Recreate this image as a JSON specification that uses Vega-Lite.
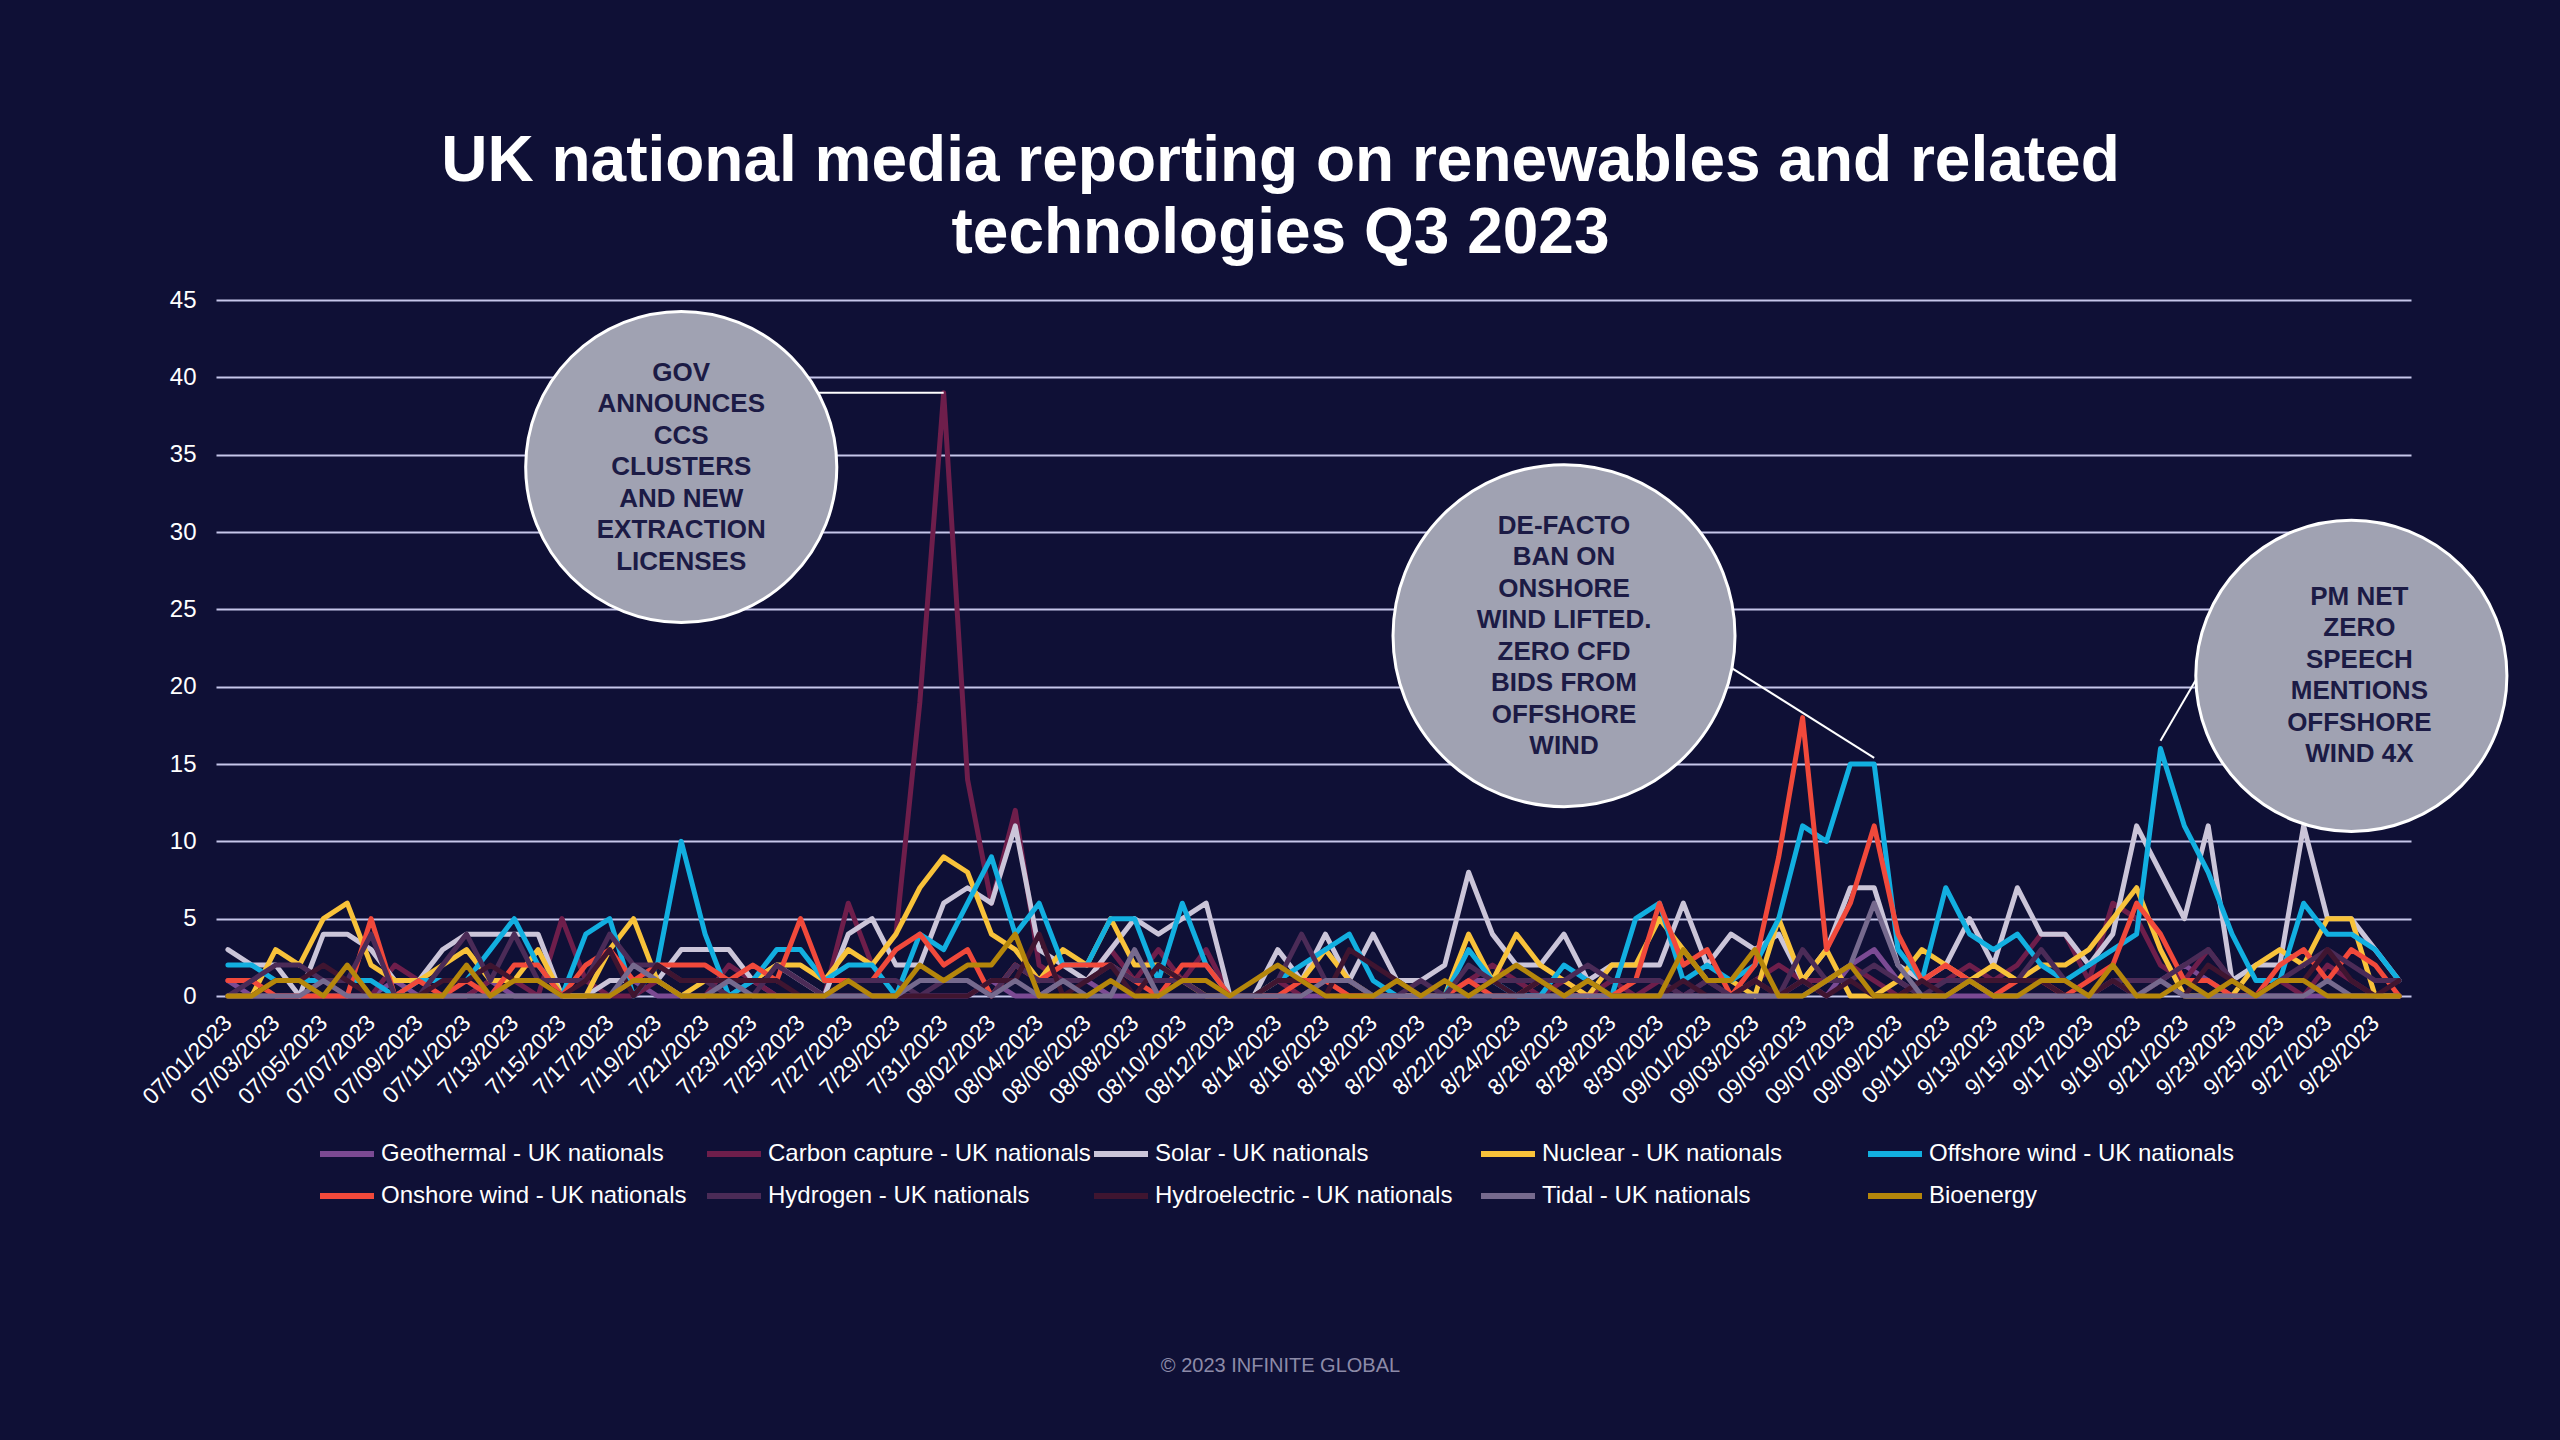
{
  "$schema": "https://vega.github.io/schema/vega-lite/v6.json",
  "width": 2195,
  "height": 696,
  "autosize": {"type": "none"},
  "padding": {"left": 216, "top": 300, "right": 149, "bottom": 444},
  "background": "#0f1036",
  "title": {
    "text": ["UK national media reporting on renewables and related", "technologies Q3 2023"],
    "color": "#ffffff",
    "font": "Liberation Sans",
    "fontSize": 64,
    "fontWeight": "bold",
    "lineHeight": 72,
    "anchor": "middle",
    "frame": "group",
    "dx": -33,
    "offset": 22
  },
  "datasets": {
    "series": [
      {"key": "geo", "name": "Geothermal - UK nationals"},
      {"key": "ccs", "name": "Carbon capture - UK nationals"},
      {"key": "solar", "name": "Solar - UK nationals"},
      {"key": "nuc", "name": "Nuclear - UK nationals"},
      {"key": "off", "name": "Offshore wind - UK nationals"},
      {"key": "on", "name": "Onshore wind - UK nationals"},
      {"key": "h2", "name": "Hydrogen - UK nationals"},
      {"key": "hydro", "name": "Hydroelectric - UK nationals"},
      {"key": "tidal", "name": "Tidal - UK nationals"},
      {"key": "bio", "name": "Bioenergy"}
    ],
    "media": [
      {"d": "07/01/2023", "geo": 1, "ccs": 1, "solar": 3, "nuc": 0, "off": 2, "on": 1, "h2": 0, "hydro": 0, "tidal": 0, "bio": 0},
      {"d": "07/02/2023", "geo": 0, "ccs": 1, "solar": 2, "nuc": 0, "off": 2, "on": 1, "h2": 1, "hydro": 0, "tidal": 0, "bio": 0},
      {"d": "07/03/2023", "geo": 0, "ccs": 0, "solar": 2, "nuc": 3, "off": 1, "on": 0, "h2": 2, "hydro": 1, "tidal": 0, "bio": 1},
      {"d": "07/04/2023", "geo": 0, "ccs": 0, "solar": 0, "nuc": 2, "off": 1, "on": 0, "h2": 2, "hydro": 1, "tidal": 0, "bio": 1},
      {"d": "07/05/2023", "geo": 0, "ccs": 1, "solar": 4, "nuc": 5, "off": 1, "on": 0, "h2": 1, "hydro": 2, "tidal": 1, "bio": 0},
      {"d": "07/06/2023", "geo": 0, "ccs": 0, "solar": 4, "nuc": 6, "off": 1, "on": 0, "h2": 1, "hydro": 1, "tidal": 0, "bio": 2},
      {"d": "07/07/2023", "geo": 0, "ccs": 0, "solar": 3, "nuc": 2, "off": 1, "on": 5, "h2": 4, "hydro": 0, "tidal": 0, "bio": 0},
      {"d": "07/08/2023", "geo": 1, "ccs": 2, "solar": 1, "nuc": 1, "off": 0, "on": 0, "h2": 0, "hydro": 0, "tidal": 0, "bio": 0},
      {"d": "07/09/2023", "geo": 0, "ccs": 1, "solar": 1, "nuc": 1, "off": 1, "on": 1, "h2": 0, "hydro": 0, "tidal": 0, "bio": 0},
      {"d": "07/10/2023", "geo": 0, "ccs": 0, "solar": 3, "nuc": 2, "off": 1, "on": 0, "h2": 2, "hydro": 1, "tidal": 0, "bio": 0},
      {"d": "07/11/2023", "geo": 0, "ccs": 0, "solar": 4, "nuc": 3, "off": 1, "on": 1, "h2": 4, "hydro": 1, "tidal": 0, "bio": 2},
      {"d": "07/12/2023", "geo": 1, "ccs": 1, "solar": 4, "nuc": 1, "off": 3, "on": 0, "h2": 1, "hydro": 2, "tidal": 0, "bio": 0},
      {"d": "7/13/2023", "geo": 0, "ccs": 1, "solar": 4, "nuc": 1, "off": 5, "on": 2, "h2": 4, "hydro": 1, "tidal": 0, "bio": 1},
      {"d": "7/14/2023", "geo": 0, "ccs": 0, "solar": 4, "nuc": 3, "off": 2, "on": 2, "h2": 1, "hydro": 1, "tidal": 0, "bio": 1},
      {"d": "7/15/2023", "geo": 0, "ccs": 5, "solar": 0, "nuc": 0, "off": 0, "on": 0, "h2": 1, "hydro": 0, "tidal": 0, "bio": 0},
      {"d": "7/16/2023", "geo": 0, "ccs": 1, "solar": 0, "nuc": 0, "off": 4, "on": 2, "h2": 1, "hydro": 1, "tidal": 0, "bio": 0},
      {"d": "7/17/2023", "geo": 0, "ccs": 0, "solar": 1, "nuc": 3, "off": 5, "on": 3, "h2": 4, "hydro": 3, "tidal": 0, "bio": 0},
      {"d": "7/18/2023", "geo": 1, "ccs": 0, "solar": 1, "nuc": 5, "off": 0, "on": 1, "h2": 2, "hydro": 0, "tidal": 2, "bio": 1},
      {"d": "7/19/2023", "geo": 0, "ccs": 1, "solar": 1, "nuc": 1, "off": 2, "on": 2, "h2": 2, "hydro": 2, "tidal": 1, "bio": 1},
      {"d": "7/20/2023", "geo": 0, "ccs": 0, "solar": 3, "nuc": 0, "off": 10, "on": 2, "h2": 1, "hydro": 1, "tidal": 0, "bio": 0},
      {"d": "7/21/2023", "geo": 0, "ccs": 0, "solar": 3, "nuc": 1, "off": 4, "on": 2, "h2": 1, "hydro": 1, "tidal": 0, "bio": 0},
      {"d": "7/22/2023", "geo": 0, "ccs": 2, "solar": 3, "nuc": 1, "off": 0, "on": 1, "h2": 0, "hydro": 1, "tidal": 1, "bio": 0},
      {"d": "7/23/2023", "geo": 1, "ccs": 1, "solar": 1, "nuc": 1, "off": 1, "on": 2, "h2": 0, "hydro": 1, "tidal": 0, "bio": 0},
      {"d": "7/24/2023", "geo": 0, "ccs": 0, "solar": 2, "nuc": 2, "off": 3, "on": 1, "h2": 2, "hydro": 1, "tidal": 0, "bio": 0},
      {"d": "7/25/2023", "geo": 0, "ccs": 0, "solar": 1, "nuc": 2, "off": 3, "on": 5, "h2": 1, "hydro": 0, "tidal": 0, "bio": 0},
      {"d": "7/26/2023", "geo": 0, "ccs": 0, "solar": 0, "nuc": 1, "off": 1, "on": 1, "h2": 0, "hydro": 0, "tidal": 0, "bio": 0},
      {"d": "7/27/2023", "geo": 0, "ccs": 6, "solar": 4, "nuc": 3, "off": 2, "on": 1, "h2": 1, "hydro": 0, "tidal": 0, "bio": 1},
      {"d": "7/28/2023", "geo": 0, "ccs": 2, "solar": 5, "nuc": 2, "off": 2, "on": 1, "h2": 1, "hydro": 0, "tidal": 0, "bio": 0},
      {"d": "7/29/2023", "geo": 0, "ccs": 4, "solar": 2, "nuc": 4, "off": 0, "on": 3, "h2": 1, "hydro": 0, "tidal": 0, "bio": 0},
      {"d": "7/30/2023", "geo": 0, "ccs": 19, "solar": 2, "nuc": 7, "off": 4, "on": 4, "h2": 0, "hydro": 0, "tidal": 1, "bio": 2},
      {"d": "7/31/2023", "geo": 0, "ccs": 39, "solar": 6, "nuc": 9, "off": 3, "on": 2, "h2": 1, "hydro": 0, "tidal": 1, "bio": 1},
      {"d": "08/01/2023", "geo": 0, "ccs": 14, "solar": 7, "nuc": 8, "off": 6, "on": 3, "h2": 1, "hydro": 0, "tidal": 1, "bio": 2},
      {"d": "08/02/2023", "geo": 1, "ccs": 6, "solar": 6, "nuc": 4, "off": 9, "on": 0, "h2": 0, "hydro": 1, "tidal": 0, "bio": 2},
      {"d": "08/03/2023", "geo": 0, "ccs": 12, "solar": 11, "nuc": 3, "off": 4, "on": 2, "h2": 2, "hydro": 1, "tidal": 1, "bio": 4},
      {"d": "08/04/2023", "geo": 0, "ccs": 2, "solar": 3, "nuc": 1, "off": 6, "on": 1, "h2": 1, "hydro": 4, "tidal": 0, "bio": 0},
      {"d": "08/05/2023", "geo": 1, "ccs": 1, "solar": 2, "nuc": 3, "off": 2, "on": 2, "h2": 1, "hydro": 0, "tidal": 1, "bio": 0},
      {"d": "08/06/2023", "geo": 1, "ccs": 1, "solar": 1, "nuc": 2, "off": 2, "on": 2, "h2": 1, "hydro": 1, "tidal": 0, "bio": 0},
      {"d": "08/07/2023", "geo": 0, "ccs": 3, "solar": 3, "nuc": 5, "off": 5, "on": 2, "h2": 2, "hydro": 2, "tidal": 0, "bio": 1},
      {"d": "08/08/2023", "geo": 0, "ccs": 1, "solar": 5, "nuc": 2, "off": 5, "on": 1, "h2": 1, "hydro": 0, "tidal": 3, "bio": 0},
      {"d": "08/09/2023", "geo": 0, "ccs": 3, "solar": 4, "nuc": 2, "off": 1, "on": 0, "h2": 1, "hydro": 2, "tidal": 0, "bio": 0},
      {"d": "08/10/2023", "geo": 0, "ccs": 1, "solar": 5, "nuc": 1, "off": 6, "on": 2, "h2": 1, "hydro": 1, "tidal": 0, "bio": 1},
      {"d": "08/11/2023", "geo": 0, "ccs": 3, "solar": 6, "nuc": 0, "off": 2, "on": 2, "h2": 0, "hydro": 1, "tidal": 0, "bio": 1},
      {"d": "08/12/2023", "geo": 0, "ccs": 0, "solar": 0, "nuc": 0, "off": 0, "on": 0, "h2": 0, "hydro": 0, "tidal": 0, "bio": 0},
      {"d": "8/13/2023", "geo": 0, "ccs": 0, "solar": 0, "nuc": 0, "off": 0, "on": 0, "h2": 0, "hydro": 0, "tidal": 0, "bio": 1},
      {"d": "8/14/2023", "geo": 0, "ccs": 1, "solar": 3, "nuc": 1, "off": 1, "on": 0, "h2": 1, "hydro": 1, "tidal": 0, "bio": 2},
      {"d": "8/15/2023", "geo": 0, "ccs": 0, "solar": 1, "nuc": 1, "off": 2, "on": 1, "h2": 4, "hydro": 1, "tidal": 0, "bio": 1},
      {"d": "8/16/2023", "geo": 0, "ccs": 1, "solar": 4, "nuc": 3, "off": 3, "on": 1, "h2": 1, "hydro": 0, "tidal": 1, "bio": 0},
      {"d": "8/17/2023", "geo": 0, "ccs": 0, "solar": 1, "nuc": 1, "off": 4, "on": 0, "h2": 1, "hydro": 3, "tidal": 1, "bio": 0},
      {"d": "8/18/2023", "geo": 0, "ccs": 0, "solar": 4, "nuc": 0, "off": 1, "on": 0, "h2": 0, "hydro": 2, "tidal": 0, "bio": 0},
      {"d": "8/19/2023", "geo": 0, "ccs": 1, "solar": 1, "nuc": 0, "off": 0, "on": 0, "h2": 0, "hydro": 1, "tidal": 0, "bio": 1},
      {"d": "8/20/2023", "geo": 0, "ccs": 0, "solar": 1, "nuc": 0, "off": 0, "on": 0, "h2": 1, "hydro": 0, "tidal": 0, "bio": 0},
      {"d": "8/21/2023", "geo": 0, "ccs": 0, "solar": 2, "nuc": 0, "off": 0, "on": 0, "h2": 0, "hydro": 0, "tidal": 0, "bio": 1},
      {"d": "8/22/2023", "geo": 1, "ccs": 1, "solar": 8, "nuc": 4, "off": 3, "on": 1, "h2": 2, "hydro": 0, "tidal": 0, "bio": 0},
      {"d": "8/23/2023", "geo": 1, "ccs": 2, "solar": 4, "nuc": 1, "off": 1, "on": 0, "h2": 1, "hydro": 1, "tidal": 0, "bio": 1},
      {"d": "8/24/2023", "geo": 0, "ccs": 1, "solar": 2, "nuc": 4, "off": 0, "on": 0, "h2": 1, "hydro": 0, "tidal": 0, "bio": 2},
      {"d": "8/25/2023", "geo": 0, "ccs": 0, "solar": 2, "nuc": 2, "off": 0, "on": 1, "h2": 1, "hydro": 1, "tidal": 0, "bio": 1},
      {"d": "8/26/2023", "geo": 0, "ccs": 1, "solar": 4, "nuc": 1, "off": 2, "on": 0, "h2": 1, "hydro": 0, "tidal": 0, "bio": 0},
      {"d": "8/27/2023", "geo": 0, "ccs": 0, "solar": 1, "nuc": 0, "off": 1, "on": 0, "h2": 2, "hydro": 1, "tidal": 0, "bio": 1},
      {"d": "8/28/2023", "geo": 0, "ccs": 1, "solar": 2, "nuc": 2, "off": 0, "on": 0, "h2": 1, "hydro": 0, "tidal": 0, "bio": 0},
      {"d": "8/29/2023", "geo": 0, "ccs": 0, "solar": 2, "nuc": 2, "off": 5, "on": 1, "h2": 1, "hydro": 0, "tidal": 0, "bio": 0},
      {"d": "8/30/2023", "geo": 0, "ccs": 1, "solar": 2, "nuc": 5, "off": 6, "on": 6, "h2": 1, "hydro": 0, "tidal": 0, "bio": 0},
      {"d": "8/31/2023", "geo": 0, "ccs": 0, "solar": 6, "nuc": 3, "off": 1, "on": 2, "h2": 0, "hydro": 1, "tidal": 0, "bio": 3},
      {"d": "09/01/2023", "geo": 0, "ccs": 1, "solar": 2, "nuc": 1, "off": 2, "on": 3, "h2": 1, "hydro": 0, "tidal": 0, "bio": 1},
      {"d": "09/02/2023", "geo": 0, "ccs": 0, "solar": 4, "nuc": 1, "off": 1, "on": 0, "h2": 0, "hydro": 0, "tidal": 0, "bio": 1},
      {"d": "09/03/2023", "geo": 0, "ccs": 1, "solar": 3, "nuc": 0, "off": 2, "on": 2, "h2": 1, "hydro": 1, "tidal": 0, "bio": 3},
      {"d": "09/04/2023", "geo": 0, "ccs": 2, "solar": 4, "nuc": 5, "off": 5, "on": 9, "h2": 0, "hydro": 0, "tidal": 0, "bio": 0},
      {"d": "09/05/2023", "geo": 1, "ccs": 1, "solar": 1, "nuc": 1, "off": 11, "on": 18, "h2": 3, "hydro": 1, "tidal": 0, "bio": 0},
      {"d": "09/06/2023", "geo": 0, "ccs": 1, "solar": 3, "nuc": 3, "off": 10, "on": 3, "h2": 1, "hydro": 0, "tidal": 1, "bio": 1},
      {"d": "09/07/2023", "geo": 2, "ccs": 2, "solar": 7, "nuc": 0, "off": 15, "on": 6, "h2": 1, "hydro": 1, "tidal": 2, "bio": 2},
      {"d": "09/08/2023", "geo": 3, "ccs": 1, "solar": 7, "nuc": 0, "off": 15, "on": 11, "h2": 2, "hydro": 0, "tidal": 6, "bio": 0},
      {"d": "09/09/2023", "geo": 1, "ccs": 0, "solar": 2, "nuc": 1, "off": 3, "on": 4, "h2": 1, "hydro": 0, "tidal": 2, "bio": 0},
      {"d": "09/10/2023", "geo": 0, "ccs": 1, "solar": 1, "nuc": 3, "off": 1, "on": 1, "h2": 0, "hydro": 1, "tidal": 0, "bio": 0},
      {"d": "09/11/2023", "geo": 0, "ccs": 1, "solar": 2, "nuc": 2, "off": 7, "on": 2, "h2": 1, "hydro": 0, "tidal": 0, "bio": 0},
      {"d": "09/12/2023", "geo": 0, "ccs": 2, "solar": 5, "nuc": 1, "off": 4, "on": 1, "h2": 1, "hydro": 1, "tidal": 1, "bio": 1},
      {"d": "9/13/2023", "geo": 0, "ccs": 1, "solar": 2, "nuc": 2, "off": 3, "on": 0, "h2": 1, "hydro": 1, "tidal": 0, "bio": 0},
      {"d": "9/14/2023", "geo": 0, "ccs": 2, "solar": 7, "nuc": 1, "off": 4, "on": 1, "h2": 1, "hydro": 1, "tidal": 0, "bio": 0},
      {"d": "9/15/2023", "geo": 0, "ccs": 4, "solar": 4, "nuc": 2, "off": 2, "on": 1, "h2": 3, "hydro": 1, "tidal": 0, "bio": 1},
      {"d": "9/16/2023", "geo": 0, "ccs": 4, "solar": 4, "nuc": 2, "off": 1, "on": 0, "h2": 1, "hydro": 0, "tidal": 0, "bio": 1},
      {"d": "9/17/2023", "geo": 0, "ccs": 1, "solar": 2, "nuc": 3, "off": 2, "on": 1, "h2": 0, "hydro": 0, "tidal": 0, "bio": 0},
      {"d": "9/18/2023", "geo": 1, "ccs": 6, "solar": 4, "nuc": 5, "off": 3, "on": 2, "h2": 1, "hydro": 1, "tidal": 0, "bio": 2},
      {"d": "9/19/2023", "geo": 0, "ccs": 5, "solar": 11, "nuc": 7, "off": 4, "on": 6, "h2": 1, "hydro": 0, "tidal": 0, "bio": 0},
      {"d": "9/20/2023", "geo": 1, "ccs": 2, "solar": 8, "nuc": 3, "off": 16, "on": 4, "h2": 1, "hydro": 1, "tidal": 1, "bio": 0},
      {"d": "9/21/2023", "geo": 2, "ccs": 1, "solar": 5, "nuc": 0, "off": 11, "on": 1, "h2": 2, "hydro": 0, "tidal": 0, "bio": 1},
      {"d": "9/22/2023", "geo": 1, "ccs": 3, "solar": 11, "nuc": 0, "off": 8, "on": 1, "h2": 3, "hydro": 2, "tidal": 0, "bio": 0},
      {"d": "9/23/2023", "geo": 0, "ccs": 1, "solar": 1, "nuc": 0, "off": 4, "on": 0, "h2": 1, "hydro": 1, "tidal": 0, "bio": 1},
      {"d": "9/24/2023", "geo": 0, "ccs": 0, "solar": 2, "nuc": 2, "off": 1, "on": 0, "h2": 0, "hydro": 0, "tidal": 0, "bio": 0},
      {"d": "9/25/2023", "geo": 0, "ccs": 1, "solar": 2, "nuc": 3, "off": 1, "on": 2, "h2": 1, "hydro": 1, "tidal": 0, "bio": 1},
      {"d": "9/26/2023", "geo": 0, "ccs": 0, "solar": 11, "nuc": 2, "off": 6, "on": 3, "h2": 2, "hydro": 1, "tidal": 0, "bio": 1},
      {"d": "9/27/2023", "geo": 0, "ccs": 2, "solar": 5, "nuc": 5, "off": 4, "on": 1, "h2": 3, "hydro": 3, "tidal": 1, "bio": 0},
      {"d": "9/28/2023", "geo": 0, "ccs": 1, "solar": 5, "nuc": 5, "off": 4, "on": 3, "h2": 2, "hydro": 1, "tidal": 0, "bio": 0},
      {"d": "9/29/2023", "geo": 0, "ccs": 0, "solar": 3, "nuc": 0, "off": 3, "on": 2, "h2": 1, "hydro": 0, "tidal": 0, "bio": 0},
      {"d": "9/30/2023", "geo": 0, "ccs": 0, "solar": 1, "nuc": 0, "off": 1, "on": 0, "h2": 1, "hydro": 1, "tidal": 0, "bio": 0}
    ],
    "links": [
      {"d": "7/25/2023", "d2": "7/31/2023", "v": 39, "v2": 39},
      {"d": "09/01/2023", "d2": "09/08/2023", "v": 22.2, "v2": 15.4},
      {"d": "9/20/2023", "d2": "9/22/2023", "v": 16.5, "v2": 21.8}
    ],
    "notes": [
      {"id": 1, "d": "7/20/2023", "v": 34.2, "note": ["GOV", "ANNOUNCES", "CCS", "CLUSTERS", "AND NEW", "EXTRACTION", "LICENSES"]},
      {"id": 2, "d": "8/26/2023", "v": 23.3, "note": ["DE-FACTO", "BAN ON", "ONSHORE", "WIND LIFTED.", "ZERO CFD", "BIDS FROM", "OFFSHORE", "WIND"]},
      {"id": 3, "d": "9/28/2023", "v": 20.7, "note": ["PM NET", "ZERO", "SPEECH", "MENTIONS", "OFFSHORE", "WIND 4X"]}
    ]
  },
  "encoding": {
    "x": {
      "field": "d",
      "type": "ordinal",
      "sort": null,
      "scale": {
        "type": "point",
        "padding": 0.5,
        "domain": ["07/01/2023", "07/02/2023", "07/03/2023", "07/04/2023", "07/05/2023", "07/06/2023", "07/07/2023", "07/08/2023", "07/09/2023", "07/10/2023", "07/11/2023", "07/12/2023", "7/13/2023", "7/14/2023", "7/15/2023", "7/16/2023", "7/17/2023", "7/18/2023", "7/19/2023", "7/20/2023", "7/21/2023", "7/22/2023", "7/23/2023", "7/24/2023", "7/25/2023", "7/26/2023", "7/27/2023", "7/28/2023", "7/29/2023", "7/30/2023", "7/31/2023", "08/01/2023", "08/02/2023", "08/03/2023", "08/04/2023", "08/05/2023", "08/06/2023", "08/07/2023", "08/08/2023", "08/09/2023", "08/10/2023", "08/11/2023", "08/12/2023", "8/13/2023", "8/14/2023", "8/15/2023", "8/16/2023", "8/17/2023", "8/18/2023", "8/19/2023", "8/20/2023", "8/21/2023", "8/22/2023", "8/23/2023", "8/24/2023", "8/25/2023", "8/26/2023", "8/27/2023", "8/28/2023", "8/29/2023", "8/30/2023", "8/31/2023", "09/01/2023", "09/02/2023", "09/03/2023", "09/04/2023", "09/05/2023", "09/06/2023", "09/07/2023", "09/08/2023", "09/09/2023", "09/10/2023", "09/11/2023", "09/12/2023", "9/13/2023", "9/14/2023", "9/15/2023", "9/16/2023", "9/17/2023", "9/18/2023", "9/19/2023", "9/20/2023", "9/21/2023", "9/22/2023", "9/23/2023", "9/24/2023", "9/25/2023", "9/26/2023", "9/27/2023", "9/28/2023", "9/29/2023", "9/30/2023"]
      },
      "axis": {
        "values": ["07/01/2023", "07/03/2023", "07/05/2023", "07/07/2023", "07/09/2023", "07/11/2023", "7/13/2023", "7/15/2023", "7/17/2023", "7/19/2023", "7/21/2023", "7/23/2023", "7/25/2023", "7/27/2023", "7/29/2023", "7/31/2023", "08/02/2023", "08/04/2023", "08/06/2023", "08/08/2023", "08/10/2023", "08/12/2023", "8/14/2023", "8/16/2023", "8/18/2023", "8/20/2023", "8/22/2023", "8/24/2023", "8/26/2023", "8/28/2023", "8/30/2023", "09/01/2023", "09/03/2023", "09/05/2023", "09/07/2023", "09/09/2023", "09/11/2023", "9/13/2023", "9/15/2023", "9/17/2023", "9/19/2023", "9/21/2023", "9/23/2023", "9/25/2023", "9/27/2023", "9/29/2023"],
        "labelAngle": -45,
        "labelAlign": "right",
        "labelBaseline": "middle",
        "labelFontSize": 23,
        "labelColor": "#ffffff",
        "labelPadding": 23,
        "labelOverlap": false,
        "labelBound": false,
        "labelFlush": false,
        "domain": false,
        "ticks": false,
        "tickSize": 0,
        "grid": false,
        "title": "© 2023 INFINITE GLOBAL",
        "titleColor": "#8d8ba8",
        "titleFontSize": 20,
        "titleFontWeight": "normal",
        "titleAlign": "center",
        "titleBaseline": "alphabetic",
        "titleX": 1064,
        "titleY": 375
      }
    },
    "y": {
      "field": "v",
      "type": "quantitative",
      "scale": {"domain": [0, 45], "nice": false},
      "axis": {
        "values": [0, 5, 10, 15, 20, 25, 30, 35, 40, 45],
        "title": null,
        "domain": false,
        "ticks": false,
        "tickSize": 0,
        "grid": true,
        "gridColor": "#c6c6ea",
        "gridWidth": 2,
        "labelFontSize": 24,
        "labelColor": "#ffffff",
        "labelPadding": 20
      }
    }
  },
  "layer": [
    {
      "data": {"name": "media"},
      "transform": [
        {"fold": ["geo", "ccs", "solar", "nuc", "off", "on", "h2", "hydro", "tidal", "bio"], "as": ["key", "v"]},
        {"lookup": "key", "from": {"data": {"name": "series"}, "key": "key", "fields": ["name"]}}
      ],
      "mark": {"type": "line", "strokeWidth": 5, "strokeJoin": "round", "strokeCap": "round"},
      "encoding": {
        "color": {
          "field": "name",
          "type": "nominal",
          "scale": {
            "domain": ["Geothermal - UK nationals", "Carbon capture - UK nationals", "Solar - UK nationals", "Nuclear - UK nationals", "Offshore wind - UK nationals", "Onshore wind - UK nationals", "Hydrogen - UK nationals", "Hydroelectric - UK nationals", "Tidal - UK nationals", "Bioenergy"],
            "range": ["#7b4a93", "#6e1e4b", "#cbc5d9", "#f8c23a", "#12afe0", "#f1493b", "#4b2b57", "#3f1530", "#766a8e", "#b5860b"]
          },
          "legend": {
            "title": null,
            "orient": "none",
            "legendX": 101,
            "legendY": 824,
            "direction": "horizontal",
            "columns": 5,
            "gridAlign": "all",
            "symbolType": "stroke",
            "symbolSize": 2916,
            "symbolStrokeWidth": 6,
            "labelFontSize": 24,
            "labelColor": "#ffffff",
            "labelLimit": 500,
            "labelOffset": 4,
            "columnPadding": -10,
            "rowPadding": 0
          }
        }
      }
    },
    {
      "data": {"name": "links"},
      "mark": {"type": "rule", "color": "#ffffff", "strokeWidth": 2},
      "encoding": {
        "x2": {"field": "d2"},
        "y2": {"field": "v2"}
      }
    },
    {
      "data": {"name": "notes"},
      "transform": [{"filter": "datum.id != 2"}],
      "mark": {"type": "point", "shape": "circle", "filled": true, "size": 96800, "fill": "#a0a2b2", "stroke": "#ffffff", "strokeWidth": 3, "opacity": 1, "fillOpacity": 1}
    },
    {
      "data": {"name": "notes"},
      "transform": [{"filter": "datum.id == 2"}],
      "mark": {"type": "point", "shape": "circle", "filled": true, "size": 116964, "fill": "#a0a2b2", "stroke": "#ffffff", "strokeWidth": 3, "opacity": 1, "fillOpacity": 1}
    },
    {
      "data": {"name": "notes"},
      "transform": [{"filter": "datum.id == 1"}],
      "mark": {"type": "text", "font": "Liberation Sans", "fontWeight": "bold", "fontSize": 26, "lineHeight": 31.5, "color": "#1c1b45", "align": "center", "baseline": "middle", "dy": -94.5},
      "encoding": {"text": {"field": "note"}}
    },
    {
      "data": {"name": "notes"},
      "transform": [{"filter": "datum.id == 2"}],
      "mark": {"type": "text", "font": "Liberation Sans", "fontWeight": "bold", "fontSize": 26, "lineHeight": 31.5, "color": "#1c1b45", "align": "center", "baseline": "middle", "dy": -110},
      "encoding": {"text": {"field": "note"}}
    },
    {
      "data": {"name": "notes"},
      "transform": [{"filter": "datum.id == 3"}],
      "mark": {"type": "text", "font": "Liberation Sans", "fontWeight": "bold", "fontSize": 26, "lineHeight": 31.5, "color": "#1c1b45", "align": "center", "baseline": "middle", "dy": -79, "dx": 8},
      "encoding": {"text": {"field": "note"}}
    }
  ],
  "config": {
    "font": "Liberation Sans",
    "view": {"stroke": null}
  }
}
